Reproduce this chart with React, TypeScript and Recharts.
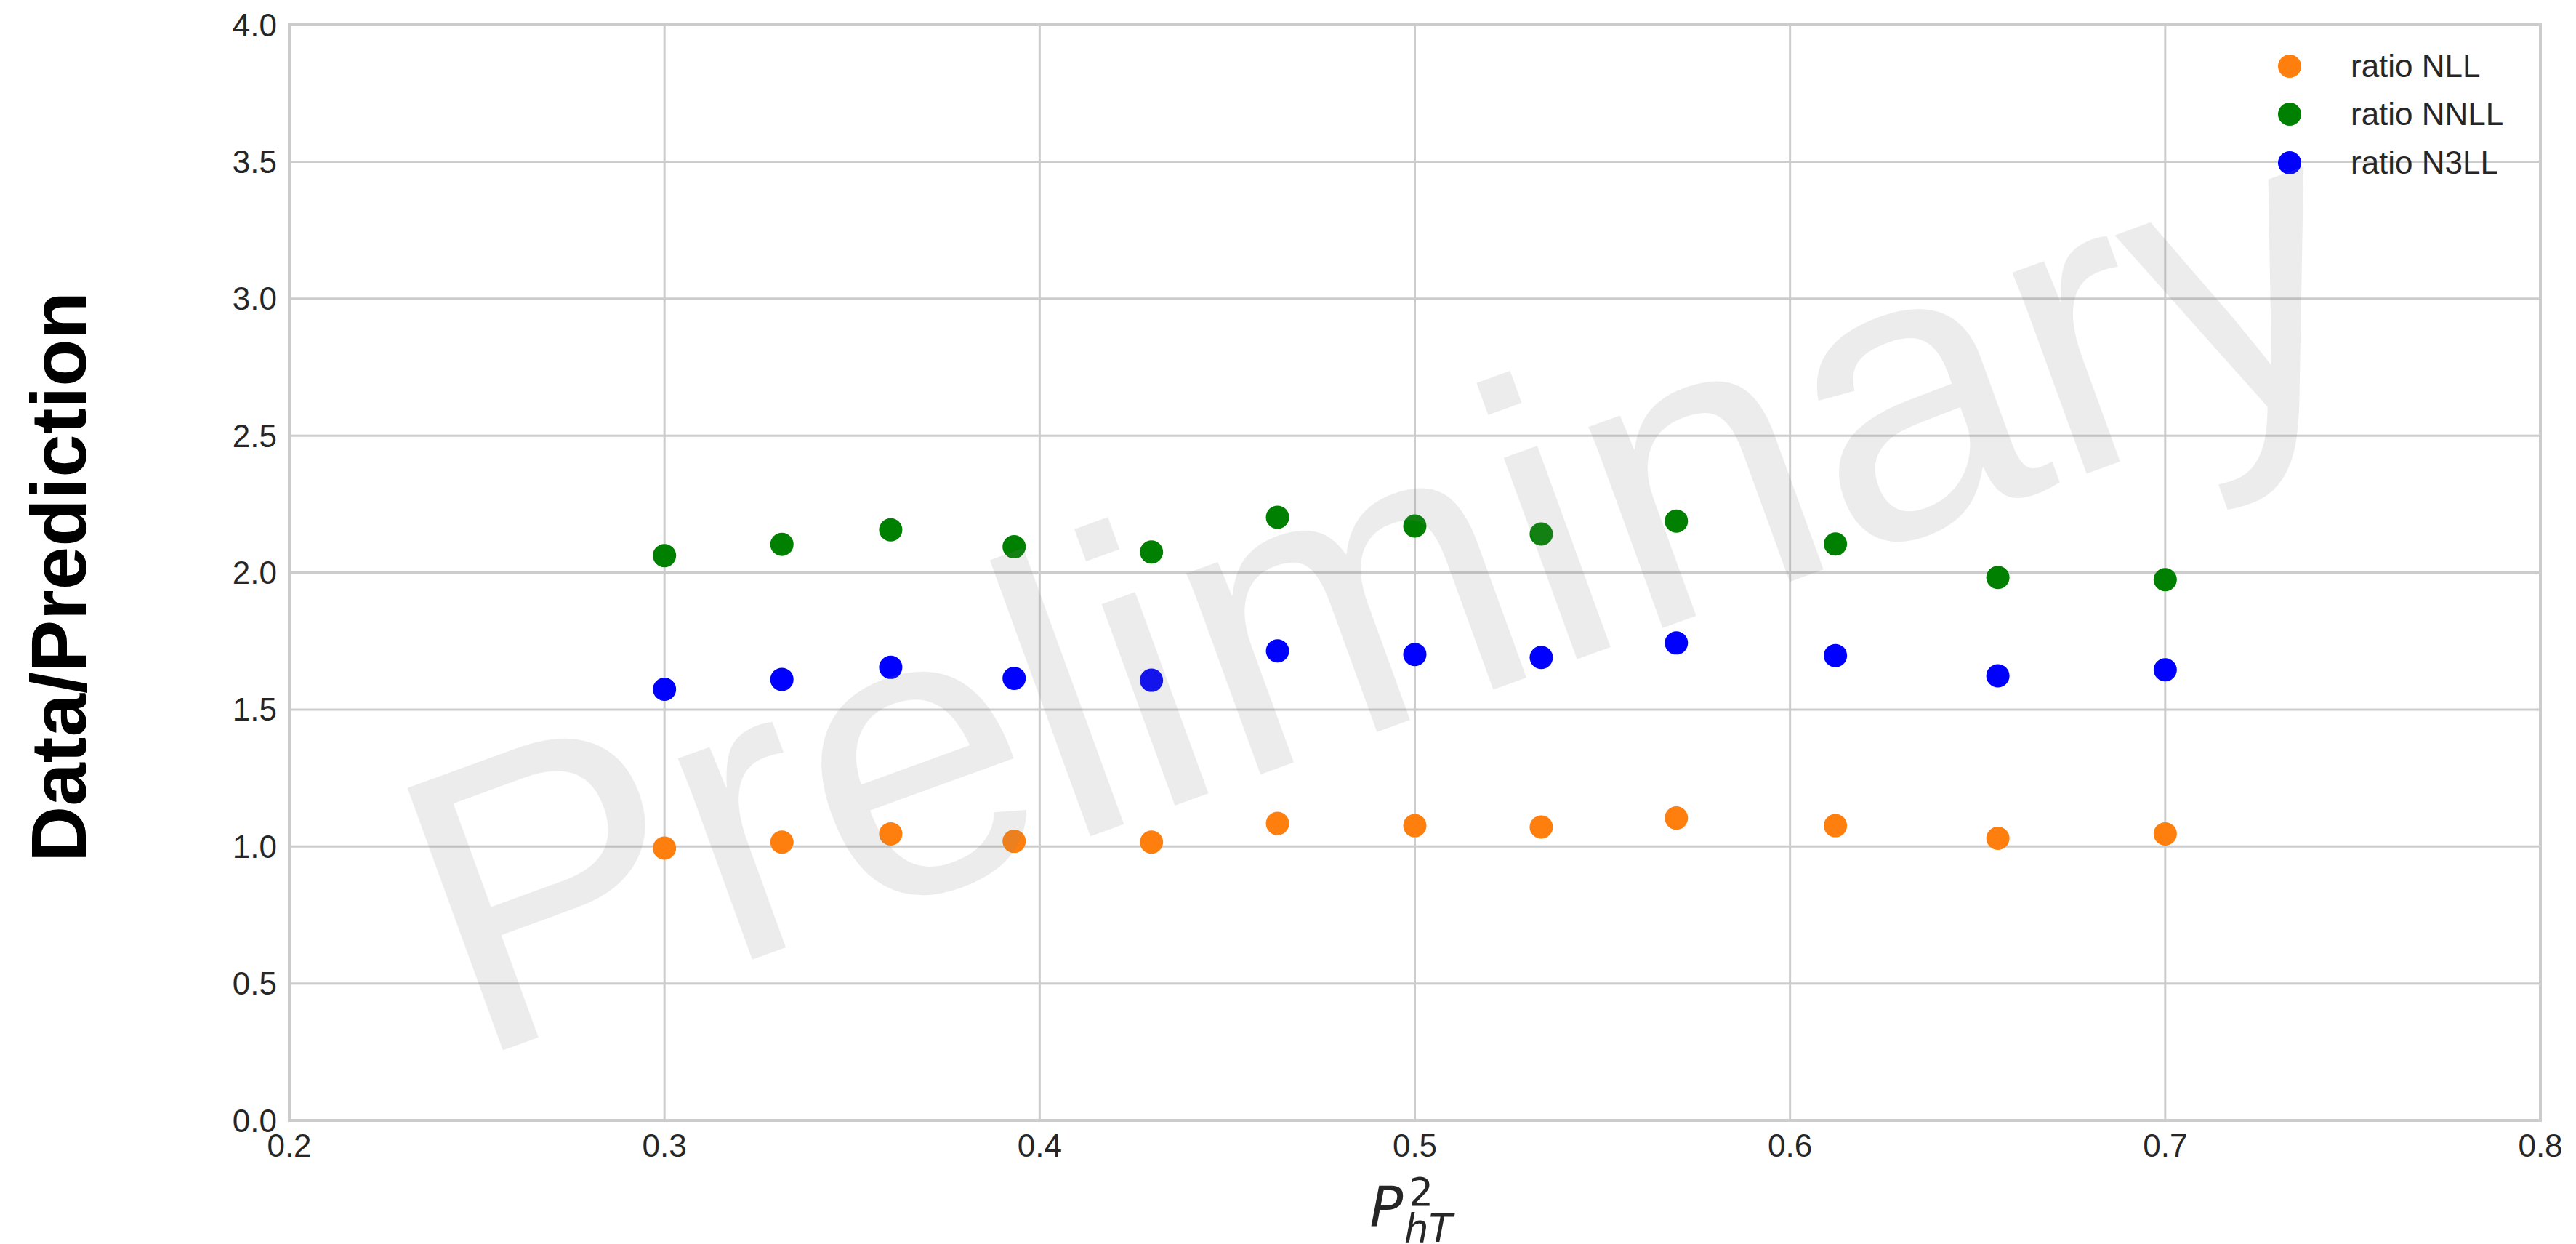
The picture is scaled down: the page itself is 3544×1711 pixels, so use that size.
import React from "react";
import { ScatterChart, Scatter, XAxis, YAxis, CartesianGrid, Legend, ReferenceArea } from "recharts";

// P_hT^2 bins
const pT2 = [0.3, 0.3313, 0.3603, 0.3932, 0.4298, 0.4634, 0.5, 0.5337, 0.5697, 0.6121, 0.6554, 0.7];

// data / prediction ratios per order
const ratioNLL = [0.994, 1.016, 1.046, 1.019, 1.016, 1.084, 1.076, 1.071, 1.104, 1.076, 1.03, 1.046];
const ratioNNLL = [2.062, 2.103, 2.156, 2.094, 2.075, 2.202, 2.17, 2.141, 2.188, 2.104, 1.982, 1.974];
const ratioN3LL = [1.574, 1.61, 1.654, 1.614, 1.607, 1.714, 1.701, 1.69, 1.743, 1.697, 1.623, 1.645];

const xTicks = [0.2, 0.3, 0.4, 0.5, 0.6, 0.7, 0.8];
const yTicks = [0, 0.5, 1, 1.5, 2, 2.5, 3, 3.5, 4];

const SERIES = [
  { name: "ratio NLL", values: ratioNLL, color: "#ff7f0e" },
  { name: "ratio NNLL", values: ratioNNLL, color: "#008000" },
  { name: "ratio N3LL", values: ratioN3LL, color: "#0000ff" },
];

const W = 3544;
const H = 1711;
const FONT = "'Liberation Sans', Arial, sans-serif";
const GRID = "#cccccc";
const TEXT = "#262626";

const toPoints = (ys: number[]) => pT2.map((x, i) => ({ x, y: ys[i] }));

const makeDot = (color: string) => (props: any) =>
  props.cx == null ? null : <circle cx={props.cx} cy={props.cy} r={16} fill={color} />;

const renderLegend = () => (
  <div style={{ fontFamily: FONT, fontSize: 44, color: TEXT }}>
    {SERIES.map((s) => (
      <div key={s.name} style={{ display: "flex", alignItems: "center", height: 66.3 }}>
        <span
          style={{ width: 32, height: 32, borderRadius: "50%", background: s.color, display: "inline-block", marginRight: 68 }}
        />
        <span style={{ lineHeight: "44px" }}>{s.name}</span>
      </div>
    ))}
  </div>
);

const YTitle = (props: any) => {
  const vb = props.viewBox || { x: 0, y: 34, width: 398, height: 1507 };
  const x = vb.x + 118;
  const y = vb.y + vb.height / 2 + 6;
  return (
    <text x={x} y={y} transform={`rotate(-90 ${x} ${y})`} textAnchor="middle"
      fontFamily={FONT} fontWeight="bold" fontSize={107} fill="#000">
      Data/Prediction
    </text>
  );
};

const XTitle = (props: any) => {
  const vb = props.viewBox || { x: 398, y: 1541, width: 3097, height: 170 };
  const x = vb.x + vb.width / 2 - 62;
  const y = vb.y + 146;
  return (
    <text x={x} y={y} fontFamily="'DejaVu Sans', sans-serif" fontSize={76} fill={TEXT}>
      <tspan fontStyle="italic">P</tspan>
      <tspan fontSize={53} dx={8} dy={-29}>2</tspan>
      <tspan fontSize={53} fontStyle="italic" dx={-40} dy={50}>hT</tspan>
    </text>
  );
};

export default function App() {
  return (
    <div style={{ position: "absolute", left: 0, top: 0, width: W, height: H, background: "#fff" }}>
      <ScatterChart width={W} height={H} margin={{ top: 34, right: 49, left: 0, bottom: 0 }}>
        <CartesianGrid stroke={GRID} strokeWidth={3} />
        <XAxis
          type="number"
          dataKey="x"
          domain={[0.2, 0.8]}
          ticks={xTicks}
          tickFormatter={(v: number) => v.toFixed(1)}
          axisLine={false}
          tickLine={false}
          tickSize={0}
          tickMargin={19}
          height={170}
          tick={{ fontFamily: FONT, fontSize: 44, fill: TEXT }}
          label={{ content: XTitle }}
        />
        <YAxis
          type="number"
          dataKey="y"
          domain={[0, 4]}
          ticks={yTicks}
          tickFormatter={(v: number) => v.toFixed(1)}
          axisLine={false}
          tickLine={false}
          tickSize={0}
          tickMargin={17}
          width={398}
          tick={{ fontFamily: FONT, fontSize: 44, fill: TEXT }}
          label={{ content: YTitle }}
        />
        <ReferenceArea x1={0.2} x2={0.8} y1={0} y2={4} fill="none" stroke={GRID} strokeWidth={4} ifOverflow="visible" />
        {SERIES.map((s) => (
          <Scatter
            key={s.name}
            name={s.name}
            data={toPoints(s.values)}
            fill={s.color}
            shape={makeDot(s.color)}
            isAnimationActive={false}
          />
        ))}
        <Legend
          layout="horizontal"
          align="center"
          verticalAlign="middle"
          content={renderLegend}
          wrapperStyle={{ top: 58, left: 3134, width: 400, height: 200 }}
        />
      </ScatterChart>
      <svg width={W} height={H} style={{ position: "absolute", left: 0, top: 0, pointerEvents: "none" }}>
        <text
          x={1960}
          y={983}
          textAnchor="middle"
          transform="rotate(-20 1960 983)"
          fontFamily={FONT}
          fontSize={558}
          fill="#808080"
          fillOpacity={0.15}
        >
          Preliminary
        </text>
      </svg>
    </div>
  );
}
